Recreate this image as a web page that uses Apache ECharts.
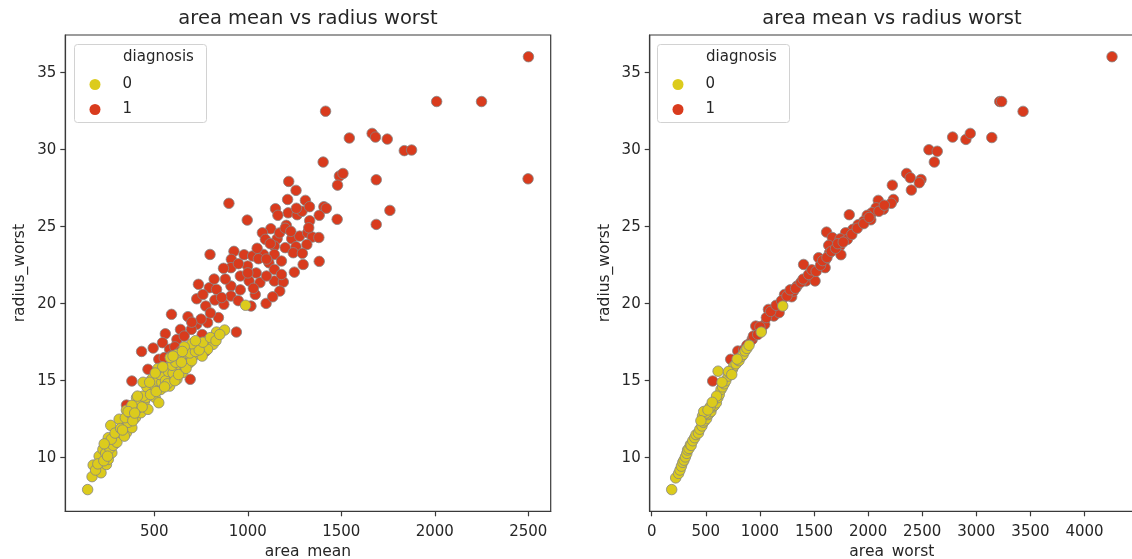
<!DOCTYPE html>
<html><head><meta charset="utf-8">
<script src="https://cdn.jsdelivr.net/npm/echarts@6/dist/echarts.min.js"></script>
<style>html,body{margin:0;padding:0;background:#fff}#c{width:1132px;height:559px}</style>
</head><body><div id="c"></div>
<script>
// ---- data ----
const titles = ['area mean vs radius worst', 'area mean vs radius worst'];
const xNames = ['area_mean', 'area_worst'];
const yName = 'radius_worst';
const legendTitle = 'diagnosis';
const classes = ['0', '1'];
const leftXTicks = [500, 1000, 1500, 2000, 2500];
const rightXTicks = [0, 500, 1000, 1500, 2000, 2500, 3000, 3500, 4000];
const yTicks = [10, 15, 20, 25, 30, 35];

// left: [area_mean, radius_worst]
const leftBenign = [
 [143.5,7.93],[167,8.77],[173,9.52],[215,9.02],[205,10.1],[244,9.56],[254,9.89],[273,10.32],[225,10.54],[267,12.1],
 [254,11.3],[292,10.97],[312,11.51],[351,11.62],[331,12.06],[380,11.95],[312,12.5],[351,13.08],[399,12.6],[393,13.36],
 [428,12.92],[405,13.9],[448,13.68],[466,13.14],[486,15.09],[486,14.48],[505,13.9],[534,14.43],[524,13.57],[567,15.84],
 [553,15.31],[592,15.31],[582,14.65],[621,15.09],[640,15.74],[650,15.52],[663,16.6],[640,16.39],[688,16.17],[680,16.93],
 [709,16.6],[621,15.95],[736,17.26],[785,17.58],[814,17.36],[833,18.16],[876,18.29],[785,17.04],[756,16.6],[988,19.9],
 [186,9.2],[198,9.6],[230,9.8],[240,10.3],[262,10.6],[280,10.8],[300,11.0],[270,11.2],[290,11.6],[320,11.9],
 [340,11.4],[360,12.3],[345,12.6],[370,12.9],[385,12.4],[410,13.2],[420,13.6],[435,13.3],[455,13.9],[470,14.2],
 [440,14.0],[460,14.6],[480,14.1],[500,14.7],[510,14.3],[520,15.0],[540,14.9],[530,15.4],[560,15.0],[570,14.8],
 [575,15.6],[600,15.5],[610,15.0],[595,16.0],[615,16.2],[630,15.4],[660,16.0],[670,15.8],[700,16.3],[690,16.8],
 [720,16.9],[740,17.0],[760,17.5],[800,17.8],[830,17.6],[850,18.0],[700,17.4],[660,17.2],[720,17.6],[410,14.0],
 [380,13.4],[360,13.0],[440,14.9],[520,15.8],[545,15.9],[585,16.5],[620,16.7],[650,16.9],[232,10.9],[250,10.1],
 [330,11.8],[395,12.9],[475,14.9],[505,15.5],[555,14.6],[645,16.2],[600,16.6]
];
const leftMalignant = [
 [2501,36.04],[2499,28.11],[2010,33.13],[2250,33.13],[1416,32.5],[1543,30.76],[1665,31.06],[1683,30.82],[1746,30.69],[1837,29.94],
 [1876,29.98],[1403,29.2],[1490,28.29],[1509,28.46],[1480,27.7],[1687,28.05],[1760,26.06],[1687,25.15],[1478,25.48],[1407,26.3],
 [1382,25.74],[1219,27.94],[1258,27.36],[1213,26.77],[1308,26.71],[899,26.52],[997,25.43],[1148,26.17],[1216,25.9],[1264,25.78],
 [1161,25.74],[1331,25.39],[1206,25.09],[1123,24.87],[1078,24.61],[1094,24.18],[1157,24.22],[1235,24.22],[1277,24.39],[1320,24.61],
 [1345,24.33],[1326,24.93],[1142,23.74],[1200,23.64],[1258,23.7],[1316,23.85],[926,23.4],[980,23.18],[1026,23.1],[1084,23.2],
 [1142,23.2],[1243,23.31],[1292,23.27],[798,23.2],[912,22.88],[999,22.45],[1057,22.92],[1113,22.66],[1180,22.77],[1296,22.55],
 [1382,22.75],[1249,22.05],[910,22.34],[1045,22.0],[1142,22.23],
 [736,21.26],[794,21.04],[910,21.15],[1007,21.48],[1065,21.37],[1142,21.48],[1190,21.41],[1171,20.82],[1098,20.02],[1133,20.45],
 [1040,20.6],[1017,19.85],[910,20.5],[949,20.2],[872,19.96],[727,20.32],[824,20.24],[775,19.85],[592,19.31],[680,19.16],
 [727,18.66],[785,18.77],[843,19.1],[640,18.33],[698,18.33],[756,18.0],[559,18.05],[621,17.68],[939,18.16],[544,17.47],
 [432,16.9],[494,17.12],[582,17.04],[524,16.39],[553,16.5],[717,17.04],[775,16.93],[466,15.74],[380,14.98],[692,15.09],
 [351,13.42],[833,20.93],
 [960,21.8],[1000,22.0],[880,21.6],[1100,22.9],[1170,24.6],[1050,23.6],[1200,24.9],[1290,26.0],[1330,26.3],[1260,26.2],
 [1180,21.9],[1030,21.0],[960,20.9],[860,20.4],[800,19.4],[750,19.0],[700,18.8],[660,17.9],[610,17.2],[590,16.6],
 [640,16.9],[760,20.6],[820,21.6],[1120,23.9],[1380,24.3],[1420,26.2],[1230,24.7],[950,22.6],[870,22.3],[1100,21.8]
];
// right: [area_worst, radius_worst]
const rightBenign = [
 [185.2,7.93],[222,8.69],[249,8.98],[262,9.2],[275,9.45],[288,9.7],[299,9.84],[312,10.05],[325,10.28],[332,10.5],
 [345,10.6],[358,10.85],[365,10.8],[380,11.1],[398,11.3],[410,11.5],[432,11.6],[445,11.85],[465,12.06],[478,12.3],
 [490,12.4],[508,12.54],[520,12.8],[535,12.9],[548,13.0],[565,13.3],[580,13.4],[598,13.57],[612,13.9],[625,14.1],
 [641,14.43],[655,14.6],[670,14.8],[685,15.0],[707,15.3],[720,15.5],[747,15.74],[760,15.95],[780,16.1],[807,16.3],
 [830,16.57],[845,16.7],[863,16.93],[880,17.1],[614,15.62],[1012,18.16],[1211,19.85],[470,12.7],[500,12.9],[540,13.3],
 [600,14.0],[650,14.9],[710,15.6],[740,15.4],[790,16.4],[900,17.3],[481,13.0],[455,12.4],[520,13.1],[560,13.6]
];
const rightMalignant = [
 [4254,36.04],[3216,33.13],[3234,33.13],[3432,32.49],[2781,30.82],[2904,30.67],[2944,31.06],[3143,30.79],[2562,30.0],[2639,29.9],
 [2612,29.2],[2356,28.46],[2390,28.18],[2489,28.07],[2473,27.86],[2400,27.38],[2224,27.7],[2094,26.71],[2234,26.77],[2214,26.52],
 [2074,26.23],[2141,26.13],[2035,25.91],[1992,25.74],[1826,25.78],[2025,25.45],[1958,25.35],[1908,25.13],[1859,24.83],[1792,24.61],
 [1616,24.65],[1669,24.3],[1742,24.22],[1636,23.79],[1739,23.74],[1809,24.18],[1643,23.3],[1749,23.18],[1543,22.99],[1603,22.82],
 [1603,22.34],[1404,22.55],[1487,21.9],
 [564,14.98],[730,16.39],[796,16.93],[896,17.36],[929,17.68],[962,18.55],[1012,18.23],[1045,18.66],[1079,19.63],[1129,19.2],
 [1178,19.42],[1228,20.6],[1294,20.45],[1311,20.82],[1344,21.15],[1427,21.48],[1510,21.48],
 [850,17.0],[880,17.3],[940,17.9],[980,18.0],[1000,18.5],[1060,19.1],[1100,19.5],[1150,19.9],[1200,20.2],[1250,20.5],
 [1280,20.9],[1330,21.0],[1380,21.4],[1400,21.6],[1450,21.9],[1480,22.2],[1520,22.1],[1560,22.5],[1580,22.8],[1620,23.0],
 [1660,23.4],[1700,23.6],[1720,23.9],[1770,24.0],[1850,24.5],[1900,24.9],[1960,25.2],[2010,25.6],[2100,26.0],[2150,26.4]
];

// ---- styling ----
const YELLOW = '#dccb1c', RED = '#d93b1d';
const FONT = 'DejaVu Sans';
const TXT = '#262626';
const AX = '#3a3a3a';

function xAxis(grid, min, max, ticks, name) {
  return {
    type: 'value', gridIndex: grid, min: min, max: max, name: name,
    nameLocation: 'middle', nameGap: 31,
    nameTextStyle: {fontFamily: FONT, fontSize: 15.5, color: TXT},
    splitLine: {show: false},
    axisLine: {show: true, onZero: false, lineStyle: {color: AX, width: 1.2}},
    axisTick: {show: true, length: 5, lineStyle: {color: AX, width: 1.2}, customValues: ticks},
    axisLabel: {fontFamily: FONT, fontSize: 15, color: TXT, margin: 13, customValues: ticks,
                formatter: v => String(v)}
  };
}
function yAxis(grid) {
  return {
    type: 'value', gridIndex: grid, min: 6.52, max: 37.45, name: yName,
    nameLocation: 'middle', nameGap: 37, nameRotate: 90,
    nameTextStyle: {fontFamily: FONT, fontSize: 15.5, color: TXT},
    splitLine: {show: false},
    axisLine: {show: true, onZero: false, lineStyle: {color: AX, width: 1.2}},
    axisTick: {show: true, length: 5, lineStyle: {color: AX, width: 1.2}, customValues: yTicks},
    axisLabel: {fontFamily: FONT, fontSize: 15, color: TXT, margin: 9, customValues: yTicks,
                formatter: v => String(v)}
  };
}
function sc(name, grid, data, color) {
  return {
    type: 'scatter', name: name, xAxisIndex: grid, yAxisIndex: grid, data: data,
    symbol: 'circle', symbolSize: 10.5,
    itemStyle: {color: color, opacity: 1, borderColor: '#858585', borderWidth: 0.8},
    emphasis: {disabled: true}, animation: false
  };
}
function legend(left) {
  return {
    data: classes, orient: 'vertical', left: left, top: 77, itemGap: 10,
    itemWidth: 11, itemHeight: 11, icon: 'circle', padding: 0,
    itemStyle: {borderWidth: 0},
    textStyle: {fontFamily: FONT, fontSize: 15, color: TXT, padding: [0,0,0,17]},
    selectedMode: false
  };
}
function legendBox(x) {
  return [
    {type: 'rect', left: x, top: 44, z: 3, shape: {width: 132, height: 78, r: 3},
     style: {fill: 'rgba(255,255,255,0.85)', stroke: '#d2d2d2', lineWidth: 1}},
    {type: 'text', left: x + 49, top: 50, z: 5,
     style: {text: legendTitle, font: '15px "DejaVu Sans"', fill: TXT}}
  ];
}

const chart = echarts.init(document.getElementById('c'), null, {renderer: 'canvas'});
chart.setOption({
  backgroundColor: '#fff',
  animation: false,
  title: [
    {text: titles[0], left: 308, top: 9, textAlign: 'center', padding: 0,
     textStyle: {fontFamily: FONT, fontSize: 19.5, fontWeight: 'normal', color: TXT}},
    {text: titles[1], left: 892, top: 9, textAlign: 'center', padding: 0,
     textStyle: {fontFamily: FONT, fontSize: 19.5, fontWeight: 'normal', color: TXT}}
  ],
  grid: [
    {left: 65.3, top: 35, width: 485.4, height: 476.3, show: true, borderColor: AX, borderWidth: 1.2,
     backgroundColor: 'transparent', containLabel: false, outerBoundsMode: 'none'},
    {left: 649.7, top: 35, width: 484.3, height: 476.3, show: true, borderColor: AX, borderWidth: 1.2,
     backgroundColor: 'transparent', containLabel: false, outerBoundsMode: 'none'}
  ],
  xAxis: [xAxis(0, 24, 2620, leftXTicks, xNames[0]), xAxis(1, -18, 4457, rightXTicks, xNames[1])],
  yAxis: [yAxis(0), yAxis(1)],
  legend: [legend(89.5), legend(672.5)],
  graphic: legendBox(74).concat(legendBox(657)),
  series: [
    sc(classes[1], 0, leftMalignant, RED),
    sc(classes[0], 0, leftBenign, YELLOW),
    sc(classes[1], 1, rightMalignant, RED),
    sc(classes[0], 1, rightBenign, YELLOW)
  ]
});
</script>
</body></html>
